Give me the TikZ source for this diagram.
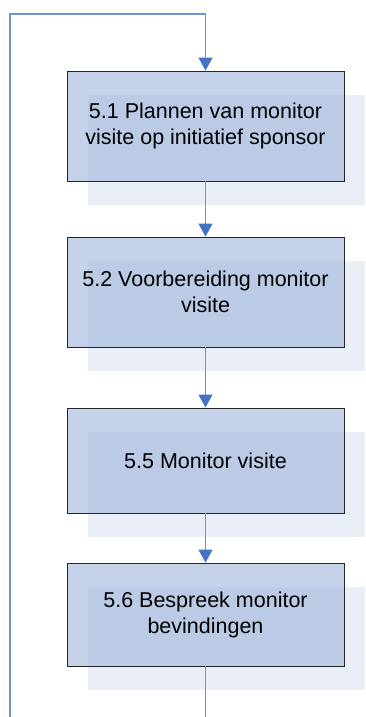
\documentclass[tikz,border=0pt]{standalone}
\usepackage{fontspec}
\setmainfont{Liberation Sans}
\usetikzlibrary{arrows.meta, shadows}

\definecolor{flowline}{RGB}{110,146,210}
\definecolor{flowtip}{RGB}{68,114,196}
\definecolor{boxfill}{RGB}{150,175,217}
\definecolor{boxshade}{RGB}{234,239,247}

\tikzset{
  stepbox/.style={draw=black!85, line width=0.9pt, fill=boxfill, fill opacity=0.55,
    text opacity=1, minimum width=277pt, minimum height=110pt, align=center,
    font=\fontsize{21.5}{26}\selectfont,
    drop shadow={shadow xshift=21pt, shadow yshift=-24pt, fill=boxshade, opacity=1}},
  flow/.style={draw=flowline, line width=1.2pt, -{Triangle[length=13pt, width=14pt, color=flowtip]}}
}

\begin{document}
\begin{tikzpicture}[x=1pt, y=-1pt]
  \useasboundingbox (0,0) rectangle (366,717);
  % stappen
  \node[stepbox] (plan) at (205.5,126) {5.1 Plannen van monitor\\visite op initiatief sponsor};
  \node[stepbox] (prep) at (205.5,292) {5.2 Voorbereiding monitor\\visite};
  \node[stepbox, minimum height=105pt] (visit) at (205.5,460.5) {5.5 Monitor visite};
  \node[stepbox, minimum height=103pt] (discuss) at (205.5,614.5) {5.6 Bespreek monitor\\bevindingen};
  % terugkoppeling langs de linkerkant
  \coordinate (loopbot) at (10,717);
  \coordinate (looptop) at (10,14);
  \coordinate (exit) at (205.5,717);
  \draw[flow] (loopbot) -- (looptop) -| (plan.north);
  % pijlen tussen de stappen
  \draw[flow] (plan) -- (prep);
  \draw[flow] (prep) -- (visit);
  \draw[flow] (visit) -- (discuss);
  \draw[draw=flowline, line width=1.2pt] (discuss) -- (exit);
\end{tikzpicture}
\end{document}
